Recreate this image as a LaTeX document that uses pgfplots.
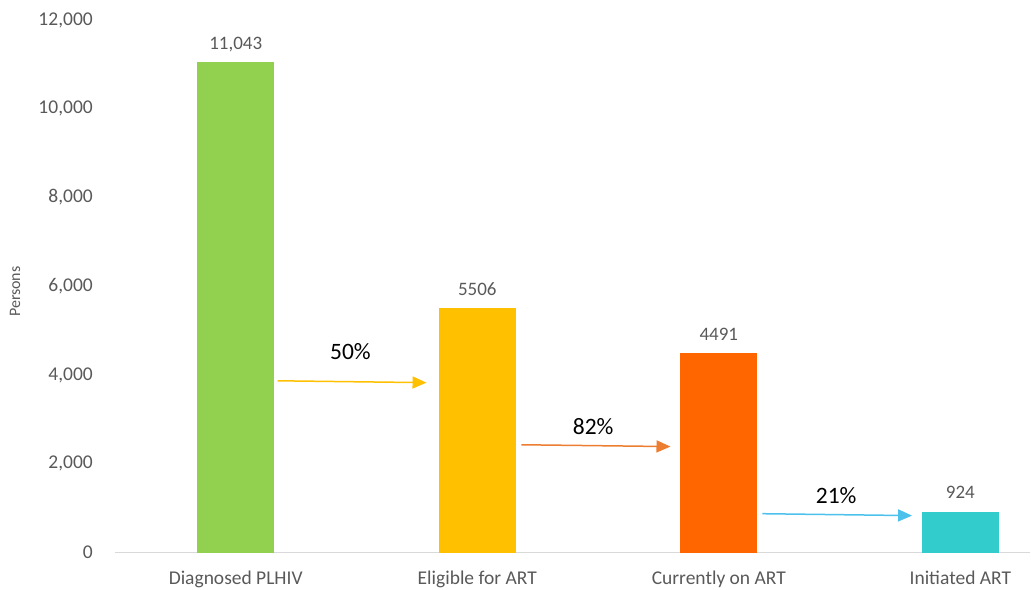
\documentclass[border=0pt]{standalone}
\usepackage{pgfplots}
\pgfplotsset{compat=1.18}
\usepackage{fontspec}
\setmainfont{Carlito}
\usetikzlibrary{arrows.meta}
\definecolor{cgreen}{HTML}{92D050}
\definecolor{cyellow}{HTML}{FFC000}
\definecolor{corange}{HTML}{FF6600}
\definecolor{ccyan}{HTML}{33CCCC}
\definecolor{aorange}{HTML}{ED7D31}
\definecolor{acyan}{HTML}{4CC1EC}
\definecolor{tgray}{HTML}{595959}
\definecolor{lgray}{HTML}{D9D9D9}
\begin{document}
\begin{tikzpicture}
\begin{axis}[
  name=ax,
  scale only axis, width=916bp, height=533bp,
  xmin=-0.5, xmax=3.29, ymin=0, ymax=12000,
  axis x line*=bottom, axis y line*=left,
  y axis line style={draw=none},
  x axis line style={draw=lgray, line width=1.2bp},
  major tick length=0pt,
  xtick={0,1,2,3},
  xticklabels={Diagnosed PLHIV, Eligible for ART, Currently on ART, Initiated ART},
  ytick={0,2000,4000,6000,8000,10000,12000},
  scaled y ticks=false,
  /pgf/number format/fixed,
  /pgf/number format/1000 sep={,},
  /pgf/number format/assume math mode=true,
  yticklabel style={anchor=east, inner sep=0pt, xshift=-22bp, text=tgray, font=\fontsize{19.5bp}{22bp}\selectfont},
  xticklabel style={anchor=base, inner sep=0pt, yshift=-32bp, text=tgray, font=\fontsize{19.5bp}{22bp}\selectfont},
  ylabel={Persons},
  ylabel style={at={(axis description cs:-0.109,0.49)}, anchor=center, inner sep=0pt, text=tgray, font=\fontsize{16bp}{18bp}\selectfont},
  ybar, bar width=77bp, bar shift=0pt,
  clip=false,
]
\addplot[fill=cgreen, draw=none] coordinates {(0,11043)};
\addplot[fill=cyellow, draw=none] coordinates {(1,5506)};
\addplot[fill=corange, draw=none] coordinates {(2,4491)};
\addplot[fill=ccyan, draw=none] coordinates {(3,924)};

\begin{scope}[every node/.style={anchor=base, inner sep=0pt, text=tgray, font=\fontsize{19bp}{22bp}\selectfont}]
\node[yshift=13bp] at (axis cs:0,11043) {11,043};
\node[yshift=13bp] at (axis cs:1,5506) {5506};
\node[yshift=13bp] at (axis cs:2,4491) {4491};
\node[yshift=13bp] at (axis cs:3,924) {924};
\end{scope}

\draw[cyellow, line width=1.5bp, -{Triangle[length=14bp,width=12bp]}] (axis cs:0.174,3872) -- (axis cs:0.790,3830);
\draw[aorange, line width=1.5bp, -{Triangle[length=14bp,width=12bp]}] (axis cs:1.183,2431) -- (axis cs:1.800,2390);
\draw[acyan, line width=1.5bp, -{Triangle[length=14bp,width=12bp]}] (axis cs:2.180,878) -- (axis cs:2.800,835);

\begin{scope}[every node/.style={anchor=center, inner sep=0pt, text=black, font=\fontsize{23.5bp}{26bp}\selectfont}]
\node at (axis cs:0.475,4525) {50\%};
\node at (axis cs:1.480,2840) {82\%};
\node at (axis cs:2.486,1280) {21\%};
\end{scope}
\end{axis}
\path (ax.south west) ++(-115bp,-37bp) rectangle ++(1031bp,590bp);
\end{tikzpicture}
\end{document}
